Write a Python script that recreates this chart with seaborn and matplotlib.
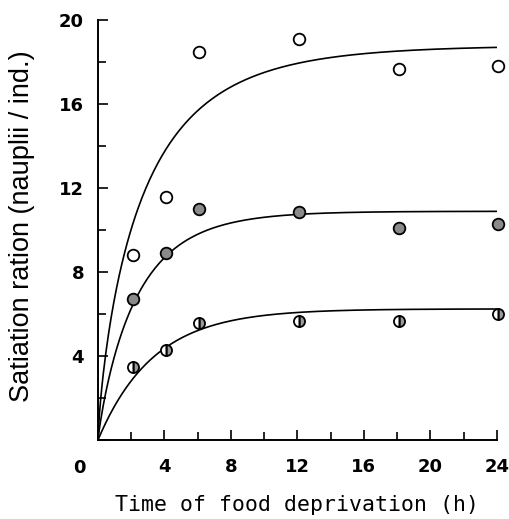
import numpy as np
import pandas as pd
import seaborn as sns
import matplotlib.pyplot as plt

# observed points (h, nauplii/ind.)
hours = [2.1, 4.1, 6.1, 12.1, 18.1, 24.1]
open_vals = [8.8, 11.6, 18.5, 19.1, 17.7, 17.8]
gray_vals = [6.7, 8.9, 11.0, 10.85, 10.1, 10.3]
half_vals = [3.5, 4.3, 5.6, 5.65, 5.65, 6.0]

# fitted curves: y = A * (1 - exp(-(k t)^p))
curve_A = [18.8, 10.9, 6.25]
curve_k = [0.354, 0.42, 0.30]
curve_p = [0.78, 0.9, 1.0]

sns.set_style('ticks', rc={'text.color': 'black', 'axes.labelcolor': 'black',
                           'xtick.color': 'black', 'ytick.color': 'black'})

fig = plt.figure(figsize=(5.1, 5.19), dpi=100)
ax = fig.add_axes([0.192, 0.152, 0.782, 0.809])

t = np.linspace(0, 24, 300)
rows = []
for i, (A, k, p) in enumerate(zip(curve_A, curve_k, curve_p)):
    rows.append(pd.DataFrame({'t': t, 'y': A * (1 - np.exp(-(k * t) ** p)), 'c': i}))
curves = pd.concat(rows)
sns.lineplot(data=curves, x='t', y='y', units='c', estimator=None,
             color='black', lw=1.2, ax=ax, legend=False)

pts = pd.DataFrame({'t': hours, 'open': open_vals, 'gray': gray_vals, 'half': half_vals})
sns.scatterplot(data=pts, x='t', y='open', s=70, facecolor='white',
                edgecolor='black', linewidth=1.3, ax=ax, zorder=3, clip_on=False)
sns.scatterplot(data=pts, x='t', y='gray', s=70, facecolor='#8a8a8a',
                edgecolor='black', linewidth=1.3, ax=ax, zorder=3, clip_on=False)
ax.plot(pts['t'], pts['half'], 'o', ms=8, fillstyle='right',
        markerfacecolor='#9a9a9a', markerfacecoloralt='white',
        markeredgecolor='black', mew=1.3, zorder=3, clip_on=False)
ax.plot(pts['t'], pts['half'], '|', ms=8, color='black', mew=1.0, zorder=4,
        clip_on=False)

ax.set_xlim(0, 24)
ax.set_ylim(0, 20)
ax.set_xticks(range(0, 25, 4))
ax.set_yticks(range(0, 21, 4))
ax.set_xticks(range(0, 25, 2), minor=True)
ax.set_yticks(range(0, 21, 2), minor=True)
ax.set_xticklabels([''] + [str(v) for v in range(4, 25, 4)])
ax.set_yticklabels([''] + [str(v) for v in range(4, 21, 4)])
ax.tick_params(which='both', direction='in', width=1.2, color='black')
ax.tick_params(which='major', length=7, pad=10)
ax.tick_params(axis='x', which='major', pad=13)
ax.tick_params(which='minor', length=6)
for lab in ax.get_xticklabels() + ax.get_yticklabels():
    lab.set_family('DejaVu Sans')
    lab.set_weight('bold')
    lab.set_fontsize(13)
ax.annotate('0', (0, 0), xytext=(-13, -20), textcoords='offset points',
            ha='center', va='center', family='DejaVu Sans',
            weight='bold', fontsize=13)

for s in ['top', 'right']:
    ax.spines[s].set_visible(False)
for s in ['left', 'bottom']:
    ax.spines[s].set_linewidth(1.4)
    ax.spines[s].set_color('black')

ax.set_xlabel('Time of food deprivation (h)', family='DejaVu Sans Mono',
              fontsize=15.5, va='center')
ax.xaxis.set_label_coords(0.5, -0.155)
ax.set_ylabel('Satiation ration (nauplii / ind.)', family='Liberation Sans',
              fontsize=19.5, va='center')
ax.yaxis.set_label_coords(-0.19, 0.51)

fig.savefig('out.png', dpi=100)
